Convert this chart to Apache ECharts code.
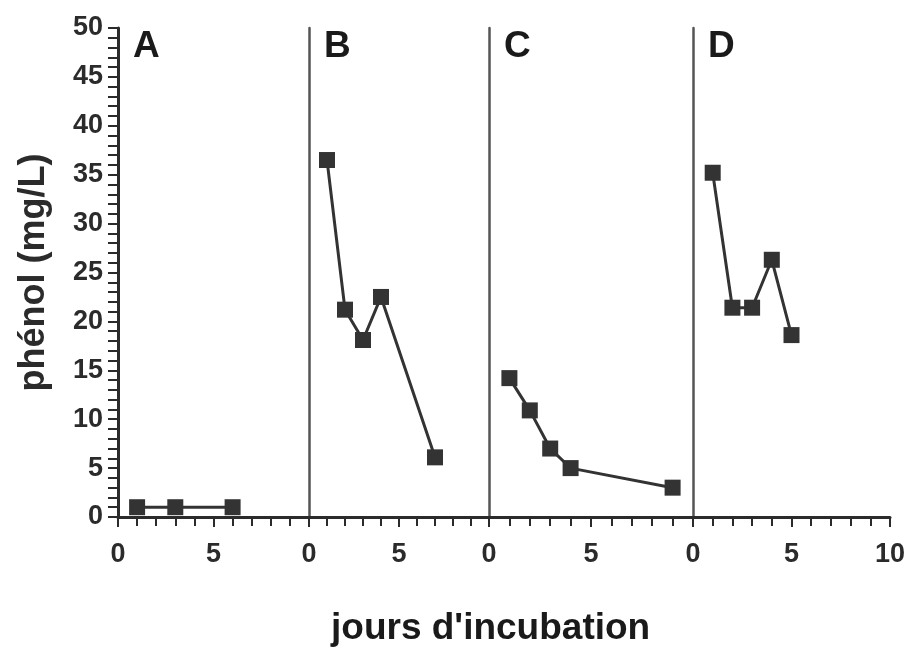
<!DOCTYPE html>
<html>
<head>
<meta charset="utf-8">
<script src="https://cdn.jsdelivr.net/npm/echarts@6/dist/echarts.min.js"></script>
<style>
  html, body { margin: 0; padding: 0; background: #fff; }
  #chart { width: 915px; height: 654px; }
</style>
</head>
<body>
<div id="chart"></div>
<script>
// phenol remaining (mg/L) per incubation day, one panel per condition
const panelNames = ['A', 'B', 'C', 'D'];

const daysA = [1, 3, 6];
const phenolA = [1, 1, 1];

const daysB = [1, 2, 3, 4, 7];
const phenolB = [36.5, 21.2, 18.1, 22.5, 6.1];

const daysC = [1, 2, 3, 4, 9];
const phenolC = [14.2, 10.9, 7.0, 5.0, 3.0];

const daysD = [1, 2, 3, 4, 5];
const phenolD = [35.2, 21.4, 21.4, 26.3, 18.6];

const allDays = [daysA, daysB, daysC, daysD];
const allPhenol = [phenolA, phenolB, phenolC, phenolD];

// panels are not all the same width in the original figure
const panelLeft = [118, 309, 489, 693];
const panelWidth = [191, 180, 204, 197];

const ink = '#2b2b2b';
const fontFamily = '"Liberation Sans", Arial, sans-serif';

var grids = [];
var xAxes = [];
var yAxes = [];
var series = [];
var graphics = [];

panelNames.forEach((name, i) => {
    grids.push({
        left: panelLeft[i],
        width: panelWidth[i],
        top: 28,
        height: 489,
        outerBoundsMode: 'none'
    });

    xAxes.push({
        gridIndex: i,
        type: 'value',
        min: 0,
        max: 10,
        interval: 5,
        axisLine: { show: true, onZero: false, lineStyle: { color: ink, width: 3 } },
        axisTick: { show: true, length: 10, lineStyle: { color: ink, width: 2 } },
        minorTick: { show: true, splitNumber: 5, length: 9, lineStyle: { color: ink, width: 2 } },
        splitLine: { show: false },
        axisLabel: {
            show: true,
            showMaxLabel: i === 3,
            margin: 24,
            fontSize: 27,
            fontWeight: 'bold',
            fontFamily: fontFamily,
            color: ink
        }
    });

    yAxes.push({
        gridIndex: i,
        type: 'value',
        min: 0,
        max: 50,
        interval: 5,
        name: i === 0 ? 'phénol (mg/L)' : '',
        nameLocation: 'middle',
        nameRotate: 90,
        nameGap: 66,
        nameTextStyle: { fontSize: 36, fontWeight: 'bold', fontFamily: fontFamily, color: ink },
        axisLine: { show: true, lineStyle: { color: i === 0 ? ink : '#555', width: i === 0 ? 3 : 2.5 } },
        axisTick: { show: i === 0, length: 10, lineStyle: { color: ink, width: 2 } },
        minorTick: { show: i === 0, splitNumber: 5, length: 10, lineStyle: { color: ink, width: 2 } },
        splitLine: { show: false },
        axisLabel: {
            show: i === 0,
            margin: 15,
            fontSize: 27,
            fontWeight: 'bold',
            fontFamily: fontFamily,
            color: ink
        }
    });

    series.push({
        type: 'line',
        name: name,
        xAxisIndex: i,
        yAxisIndex: i,
        data: allDays[i].map((d, k) => [d, allPhenol[i][k]]),
        symbol: 'rect',
        symbolSize: 16,
        itemStyle: { color: '#333' },
        lineStyle: { color: '#333', width: 3 },
        animation: false
    });

    graphics.push({
        type: 'text',
        left: panelLeft[i] + 15,
        top: 28,
        style: {
            text: name,
            fontSize: 37,
            fontWeight: 'bold',
            fontFamily: fontFamily,
            fill: '#1a1a1a'
        }
    });
});

graphics.push({
    type: 'text',
    left: 331,
    top: 610,
    style: {
        text: "jours d'incubation",
        fontSize: 37,
        fontWeight: 'bold',
        fontFamily: fontFamily,
        fill: '#1a1a1a'
    }
});

var chart = echarts.init(document.getElementById('chart'));
chart.setOption({
    backgroundColor: '#fff',
    animation: false,
    grid: grids,
    xAxis: xAxes,
    yAxis: yAxes,
    series: series,
    graphic: graphics
});
</script>
</body>
</html>
